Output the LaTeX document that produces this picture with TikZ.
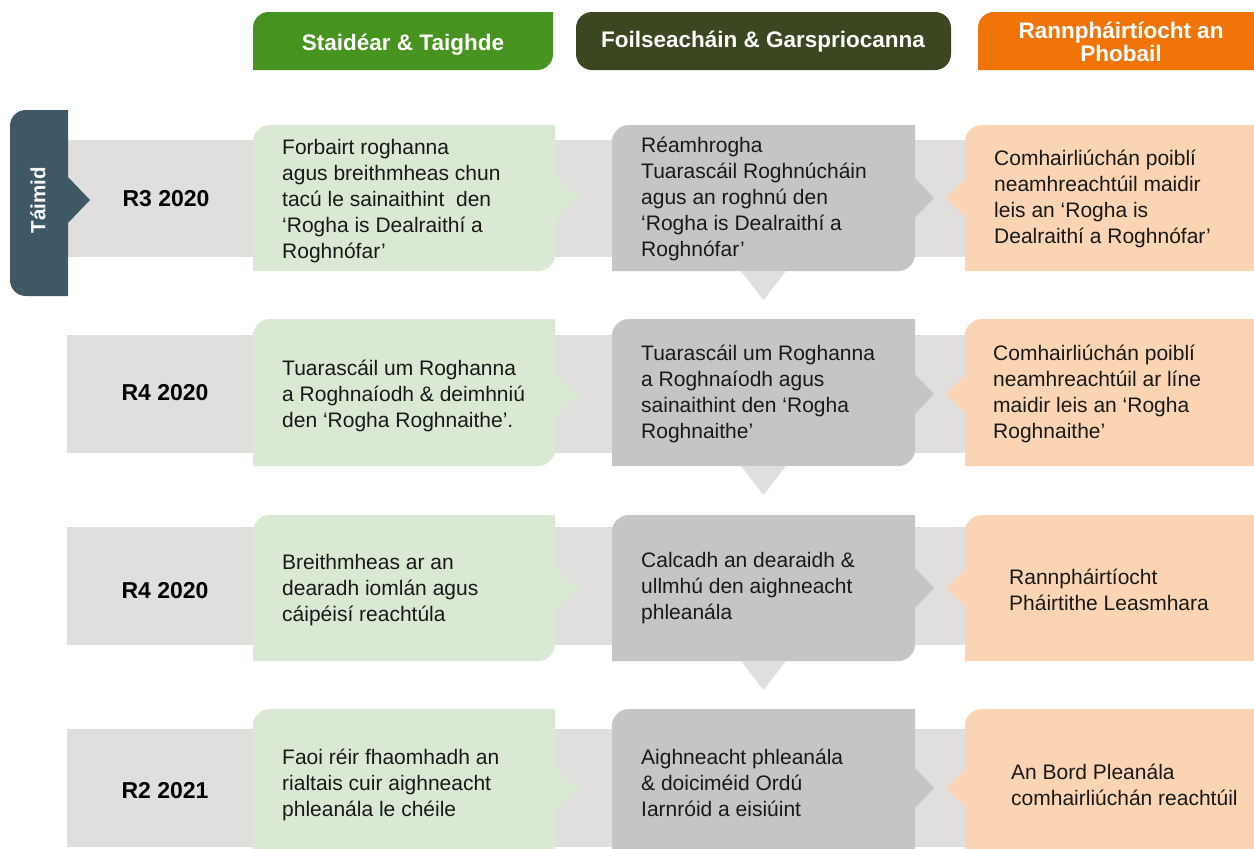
\documentclass[tikz,border=0pt]{standalone}
\usepackage{fontspec}
\setmainfont{Liberation Sans}
\definecolor{bandc}{HTML}{E0DFDD}
\definecolor{lgreen}{HTML}{DAE9D4}
\definecolor{lgray}{HTML}{C4C6C3}
\definecolor{lorange}{HTML}{FAD4B3}
\definecolor{tslate}{HTML}{3E5866}
\definecolor{hgreen}{HTML}{46931F}
\definecolor{hdark}{HTML}{3C4620}
\definecolor{horange}{HTML}{F07408}
% rounded corner helpers: radius 16, control offset 7
\newcommand\myrow[5]{%
  \fill[bandc] (67,#1) rectangle (1254,#2);
  \fill[lgreen] (253,#4) -- (253,#3+16) .. controls (253,#3+7) and (262,#3) .. (269,#3) -- (555,#3) -- (555,#5-23) -- (578,#5) -- (555,#5+23) -- (555,#4-16) .. controls (555,#4-7) and (546,#4) .. (539,#4) -- cycle;
  \fill[lgray] (612,#4) -- (612,#3+16) .. controls (612,#3+7) and (621,#3) .. (628,#3) -- (915,#3) -- (915,#5-20) -- (934,#5) -- (915,#5+20) -- (915,#4-16) .. controls (915,#4-7) and (906,#4) .. (899,#4) -- cycle;
  \fill[lorange] (965,#4) -- (965,#5+19) -- (946,#5) -- (965,#5-19) -- (965,#3+16) .. controls (965,#3+7) and (974,#3) .. (981,#3) -- (1254,#3) -- (1254,#4) -- cycle;
}
\newcommand\mydown[1]{\fill[bandc] (741,#1) -- (786,#1) -- (763.5,#1+29) -- cycle;}
\begin{document}
\begin{tikzpicture}[x=1pt,y=-1pt,
  bodytxt/.style={anchor=west, align=left, inner sep=0pt, text=black!90, font=\fontsize{21}{26}\selectfont},
  rowlbl/.style={inner sep=0pt, text=black, font=\bfseries\fontsize{23}{26}\selectfont},
  hdrtxt/.style={inner sep=0pt, text=white, align=center, font=\bfseries\fontsize{22.5}{23}\selectfont}]
\clip (0,0) rectangle (1254,849);
\fill[white] (0,0) rectangle (1254,849);
% headers
\fill[hgreen] (253,70) -- (253,28) .. controls (253,19) and (260,12) .. (269,12) -- (553,12) -- (553,54) .. controls (553,63) and (546,70) .. (537,70) -- cycle;
\node[hdrtxt] (h1) at (403,45) {Staidéar \& Taighde};
\fill[hdark, rounded corners=16pt] (576,12) rectangle (951,70);
\node[hdrtxt] (h2) at (763,42) {Foilseacháin \& Garspriocanna};
\fill[horange] (978,70) -- (978,28) .. controls (978,19) and (985,12) .. (994,12) -- (1254,12) -- (1254,70) -- cycle;
\node[hdrtxt] (h3) at (1121,42) {Rannpháirtíocht an\\Phobail};
% rows
\myrow{140}{257}{125}{271}{198}
\mydown{271}
\myrow{335}{453}{319}{466}{394}
\mydown{466}
\myrow{527}{645}{515}{661}{588}
\mydown{661}
\myrow{729}{847}{709}{870}{788}
% Taimid
\fill[tslate] (68,110) -- (68,177) -- (90,200) -- (68,223) -- (68,296) -- (26,296) .. controls (17,296) and (10,289) .. (10,280) -- (10,126) .. controls (10,117) and (17,110) .. (26,110) -- cycle;
\node[rotate=90, inner sep=0pt, text=white, font=\bfseries\fontsize{20.5}{24}\selectfont] (tm) at (38,200) {Táimid};
% row labels
\node[rowlbl] (r1) at (166,199) {R3 2020};
\node[rowlbl] (r2) at (165,393) {R4 2020};
\node[rowlbl] (r3) at (165,591) {R4 2020};
\node[rowlbl] (r4) at (165,791) {R2 2021};
% texts row 1
\node[bodytxt] (g1) at (282,201) {Forbairt roghanna\\agus breithmheas chun\\tacú le sainaithint \ den\\‘Rogha is Dealraithí a\\Roghnófar’};
\node[bodytxt] (m1) at (641,199) {Réamhrogha\\Tuarascáil Roghnúcháin\\agus an roghnú den\\‘Rogha is Dealraithí a\\Roghnófar’};
\node[bodytxt] (o1) at (994,199) {Comhairliúchán poiblí\\neamhreachtúil maidir\\leis an ‘Rogha is\\Dealraithí a Roghnófar’};
% row 2
\node[bodytxt] (g2) at (282,396) {Tuarascáil um Roghanna\\a Roghnaíodh \& deimhniú\\den ‘Rogha Roghnaithe’.};
\node[bodytxt] (m2) at (641,394) {Tuarascáil um Roghanna\\a Roghnaíodh agus\\sainaithint den ‘Rogha\\Roghnaithe’};
\node[bodytxt] (o2) at (993,394) {Comhairliúchán poiblí\\neamhreachtúil ar líne\\maidir leis an ‘Rogha\\Roghnaithe’};
% row 3
\node[bodytxt] (g3) at (282,590) {Breithmheas ar an\\dearadh iomlán agus\\cáipéisí reachtúla};
\node[bodytxt] (m3) at (641,588) {Calcadh an dearaidh \&\\ullmhú den aighneacht\\phleanála};
\node[bodytxt] (o3) at (1009,590) {Rannpháirtíocht\\Pháirtithe Leasmhara};
% row 4
\node[bodytxt] (g4) at (282,785) {Faoi réir fhaomhadh an\\rialtais cuir aighneacht\\phleanála le chéile};
\node[bodytxt] (m4) at (641,783) {Aighneacht phleanála\\\& doiciméid Ordú\\Iarnróid a eisiúint};
\node[bodytxt] (o4) at (1011,785) {An Bord Pleanála\\comhairliúchán reachtúil};
\end{tikzpicture}
\end{document}
